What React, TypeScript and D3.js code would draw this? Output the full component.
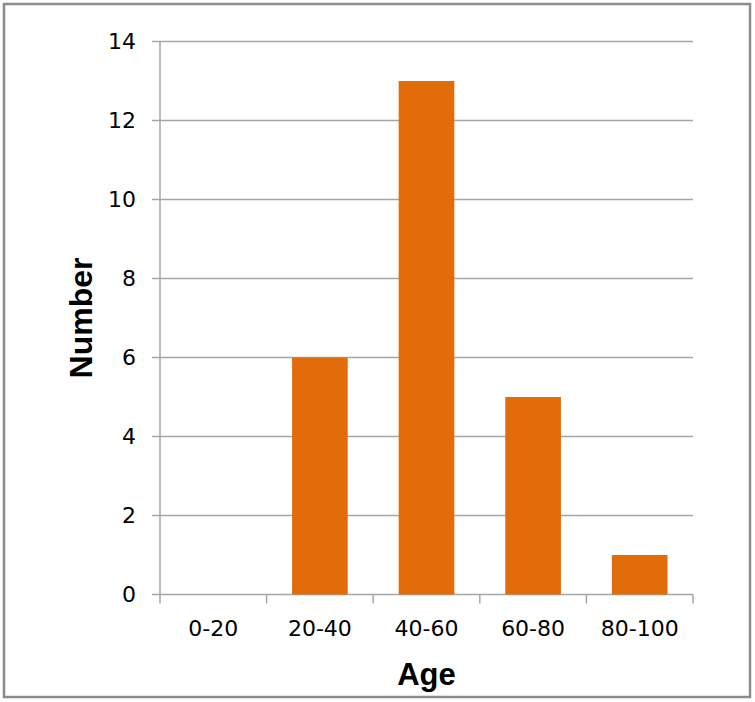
import React from "react";
import * as d3 from "d3";

const categories = ["0-20", "20-40", "40-60", "60-80", "80-100"];
const values = [0, 6, 13, 5, 1];
const yTicks = [0, 2, 4, 6, 8, 10, 12, 14];
const xTitle = "Age";
const yTitle = "Number";

export default function App() {
  const W = 755, H = 702;
  const left = 160, right = 693, top = 41.5, bottom = 594.5;
  const x = d3.scaleBand<string>().domain(categories).range([left, right]).paddingInner(0.478).paddingOuter(0.239);
  const xOuter = d3.scaleBand<string>().domain(categories).range([left, right]);
  const y = d3.scaleLinear().domain([0, 14]).range([bottom, top]);
  const grid = "#a6a6a6";
  const tickFont = "'DejaVu Sans', sans-serif";
  const boundaries = [...categories.map((c) => xOuter(c) as number), right];
  return (
    <svg width={W} height={H} style={{ position: "absolute", left: 0, top: 0 }}>
      <rect x={0} y={0} width={W} height={H} fill="#fff" />
      <rect x={4} y={4} width={746} height={693} fill="#fff" stroke="#8c8c8c" strokeWidth={2.5} />
      {yTicks.map((t) => (
        <g key={t}>
          <line x1={152} x2={right} y1={y(t)} y2={y(t)} stroke={grid} strokeWidth={1.5} />
          <text x={136} y={y(t)} dy="0.36em" textAnchor="end" fontFamily={tickFont} fontSize={22} fill="#000">
            {t}
          </text>
        </g>
      ))}
      <line x1={left} x2={left} y1={top} y2={bottom} stroke={grid} strokeWidth={1.5} />
      {boundaries.map((b, i) => (
        <line key={i} x1={b} x2={b} y1={bottom} y2={bottom + 9} stroke={grid} strokeWidth={1.5} />
      ))}
      {categories.map((c, i) => (
        <rect key={c} x={x(c)} y={y(values[i])} width={x.bandwidth()} height={bottom - y(values[i])} fill="#e36c0a" />
      ))}
      {categories.map((c) => (
        <text key={c} x={(xOuter(c) as number) + xOuter.bandwidth() / 2} y={636} textAnchor="middle" fontFamily={tickFont} fontSize={22} fill="#000">
          {c}
        </text>
      ))}
      <text x={(left + right) / 2} y={685} textAnchor="middle" fontFamily="'Liberation Sans', Arial, sans-serif" fontWeight="bold" fontSize={31} fill="#000">
        {xTitle}
      </text>
      <text transform={`translate(92, ${(top + bottom) / 2 + 0}) rotate(-90)`} textAnchor="middle" fontFamily="'Liberation Sans', Arial, sans-serif" fontWeight="bold" fontSize={32} fill="#000">
        {yTitle}
      </text>
    </svg>
  );
}
